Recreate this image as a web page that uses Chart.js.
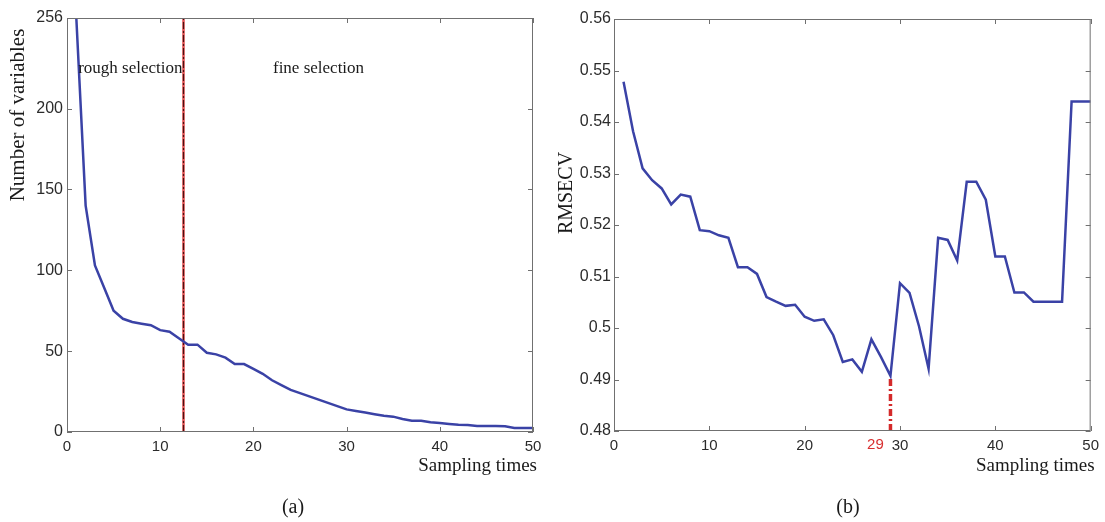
<!DOCTYPE html>
<html><head><meta charset="utf-8">
<script src="https://cdn.jsdelivr.net/npm/chart.js@4.4.0/dist/chart.umd.min.js"></script>
<style>
html,body{margin:0;padding:0;background:#fff;}
body{width:1105px;height:522px;position:relative;overflow:hidden;}
canvas{position:absolute;top:0;}
#ca{left:0;} #cb{left:552px;}
</style></head><body>
<canvas id="ca" width="552" height="522"></canvas>
<canvas id="cb" width="553" height="522"></canvas>
<script>
// ---- data ----
const samplingTimes = [1,2,3,4,5,6,7,8,9,10,11,12,13,14,15,16,17,18,19,20,21,22,23,24,25,26,27,28,29,30,31,32,33,34,35,36,37,38,39,40,41,42,43,44,45,46,47,48,49,50];
const numVariables = [256,140,103,89,75,70,68,67,66,63,62,58,54,54,49,48,46,42,42,39,36,32,29,26,24,22,20,18,16,14,13,12,11,10,9.5,8,7,7,6,5.6,5,4.5,4.3,3.7,3.7,3.7,3.5,2.5,2.5,2.5];
const rmsecv = [0.5478,0.5382,0.5310,0.5287,0.5271,0.5240,0.5259,0.5255,0.5190,0.5188,0.5180,0.5175,0.5118,0.5118,0.5105,0.5060,0.5051,0.5043,0.5045,0.5022,0.5014,0.5017,0.4986,0.4934,0.4939,0.4915,0.4978,0.4944,0.4907,0.5087,0.5068,0.5003,0.4921,0.5175,0.5171,0.5131,0.5284,0.5284,0.5249,0.5139,0.5139,0.5069,0.5069,0.5051,0.5051,0.5051,0.5051,0.5440,0.5440,0.5440];
const xTicks = [0,10,20,30,40,50];
const yTicksA = [0,50,100,150,200,256];
const yTicksB = [0.48,0.49,0.50,0.51,0.52,0.53,0.54,0.55,0.56];
const splitTime = 12.5;          // rough / fine selection boundary
const optimalTime = 29;          // minimum RMSECV
const optimalValue = 0.4907;

const BLUE = '#3a42a6';
const TICKFONT = 'Liberation Sans, Arial, sans-serif';
const SERIF = 'Liberation Serif, Times New Roman, serif';

function pts(xs, ys){ return xs.map((v,i)=>({x:v,y:ys[i]})); }

const boxPlugin = {
  id:'box',
  afterDraw(chart, args, o){
    const {ctx, chartArea:{left,right,top,bottom}, scales:{x,y}} = chart;
    ctx.save();
    ctx.strokeStyle = '#707070'; ctx.lineWidth = 1;
    ctx.strokeRect(left+0.5, top+0.5, right-left-1, bottom-top-1);
    const tl = 5;
    ctx.beginPath();
    x.ticks.forEach(t=>{ const p=Math.round(x.getPixelForValue(t.value))+0.5;
      ctx.moveTo(p,bottom); ctx.lineTo(p,bottom-tl); ctx.moveTo(p,top); ctx.lineTo(p,top+tl); });
    y.ticks.forEach(t=>{ const p=Math.round(y.getPixelForValue(t.value))+0.5;
      ctx.moveTo(left,p); ctx.lineTo(left+tl,p); ctx.moveTo(right,p); ctx.lineTo(right-tl,p); });
    ctx.stroke();
    ctx.fillStyle = '#1a1a1a';
    // x title
    ctx.font = '19px ' + SERIF;
    ctx.textAlign = 'right'; ctx.textBaseline = 'alphabetic';
    ctx.fillText('Sampling times', right + 4, 471);
    // caption
    ctx.font = '20px ' + SERIF; ctx.textAlign = 'center';
    ctx.fillText(o.caption, o.capX, 513);
    // y title
    ctx.save();
    ctx.translate(o.yTitleX, o.yTitleY); ctx.rotate(-Math.PI/2);
    ctx.font = o.yTitleSize + 'px ' + SERIF; ctx.textAlign='center'; ctx.textBaseline='middle';
    ctx.fillText(o.yTitle, 0, 0);
    ctx.restore();
    if (o.extra) o.extra(chart, ctx);
    ctx.restore();
  }
};

function baseOptions(cfg){
  return {
    responsive:false, animation:false, devicePixelRatio:1,
    layout:{padding:{top:cfg.top, right:cfg.right, bottom:0, left:0}},
    plugins:{legend:{display:false}, tooltip:{enabled:false}, box:cfg.box},
    scales:{
      x:{type:'linear', min:0, max:50,
         afterBuildTicks:s=>{ s.ticks = xTicks.map(v=>({value:v})); },
         afterFit:s=>{ s.height = cfg.xh; },
         grid:{display:false, drawTicks:false}, border:{display:false},
         ticks:{padding:6, color:'#2b2b2b', font:{family:TICKFONT, size:15}, maxRotation:0, autoSkip:false}},
      y:{type:'linear', min:cfg.ymin, max:cfg.ymax,
         afterBuildTicks:s=>{ s.ticks = cfg.yticks.map(v=>({value:v})); },
         afterFit:s=>{ s.width = cfg.yw; },
         grid:{display:false, drawTicks:false}, border:{display:false},
         ticks:{padding:cfg.ypad, color:'#2b2b2b', font:{family:TICKFONT, size:16}, autoSkip:false,
                callback:v=>String(+(+v).toFixed(2))}}
    }
  };
}

// ---- chart (a) ----
new Chart(document.getElementById('ca'), {
  type:'line',
  data:{datasets:[
    {data:pts(samplingTimes, numVariables), borderColor:BLUE, borderWidth:2.5, pointRadius:0, tension:0, order:1},
    {data:[{x:splitTime,y:0},{x:splitTime,y:256}], borderColor:'#e05050', borderWidth:2.5, pointRadius:0, order:3},
    {data:[{x:splitTime,y:0},{x:splitTime,y:256}], borderColor:'#4a1010', borderWidth:1.2, borderDash:[7,2,2,2], pointRadius:0, order:2}
  ]},
  options: baseOptions({top:18, right:19, xh:90, yw:67, ymin:0, ymax:256, yticks:yTicksA, ypad:4,
    box:{caption:'(a)', capX:293, yTitle:'Number of variables', yTitleX:18, yTitleY:115, yTitleSize:21,
      extra:(chart, ctx)=>{
        const {x,y} = chart.scales;
        ctx.font = '17px ' + SERIF; ctx.textAlign='left'; ctx.textBaseline='alphabetic'; ctx.fillStyle='#1a1a1a';
        ctx.fillText('rough selection', x.getPixelForValue(1.2), y.getPixelForValue(222));
        ctx.fillText('fine selection', x.getPixelForValue(22.1), y.getPixelForValue(222));
      }}}),
  plugins:[boxPlugin]
});

// ---- chart (b) ----
new Chart(document.getElementById('cb'), {
  type:'line',
  data:{datasets:[
    {data:pts(samplingTimes, rmsecv), borderColor:BLUE, borderWidth:2.5, pointRadius:0, tension:0, order:1},
    {data:[{x:optimalTime,y:0.48},{x:optimalTime,y:optimalValue}], borderColor:'#d42a2a', borderWidth:3.5, borderDash:[7,3,2,3], pointRadius:0, order:2}
  ]},
  options: baseOptions({top:19, right:12, xh:91, yw:62, ymin:0.48, ymax:0.56, yticks:yTicksB, ypad:3,
    box:{caption:'(b)', capX:296, yTitle:'RMSECV', yTitleX:15, yTitleY:193, yTitleSize:20,
      extra:(chart, ctx)=>{
        const {x} = chart.scales;
        ctx.font = '15px ' + TICKFONT; ctx.textAlign='center'; ctx.textBaseline='top'; ctx.fillStyle='#d83030';
        ctx.fillText(String(optimalTime), x.getPixelForValue(optimalTime) - 15, chart.chartArea.bottom + 6);
      }}}),
  plugins:[boxPlugin]
});
</script>
</body></html>
